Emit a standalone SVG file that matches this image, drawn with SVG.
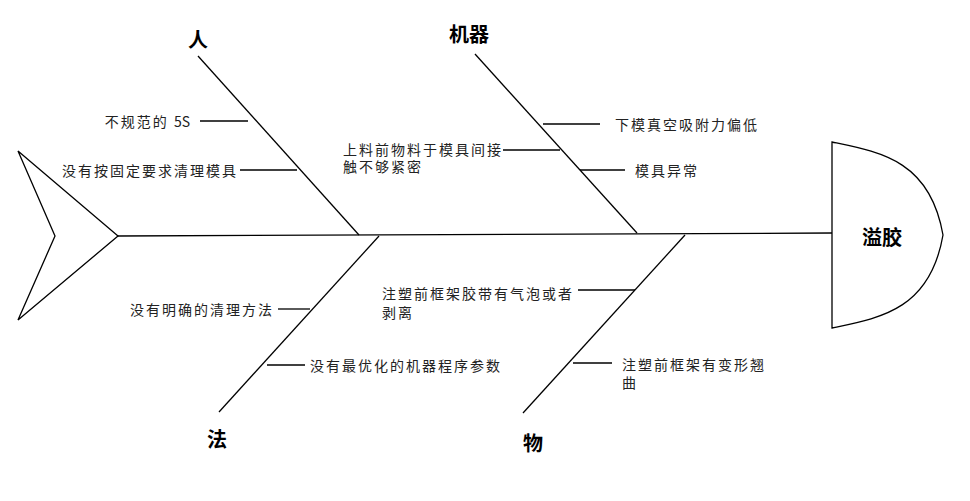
<svg xmlns="http://www.w3.org/2000/svg" width="970" height="501" viewBox="0 0 970 501">
<style>
.ln{stroke:#000;stroke-width:1.3;fill:none}
.t{font-family:"Noto Sans CJK SC","Liberation Sans",sans-serif;font-size:14px;letter-spacing:2px;fill:#222;dominant-baseline:central}
.h{font-family:"Noto Sans CJK SC","Liberation Sans",sans-serif;font-size:20px;font-weight:bold;fill:#000;dominant-baseline:central;text-anchor:middle}
.r{text-anchor:end}
</style>
<rect width="970" height="501" fill="#fff"/>
<g id="tail"><path class="ln" d="M18,151 L118,236 L18,320 L55,236 Z"/></g>
<g id="head"><path class="ln" d="M832,142 C880,152 930,160 943,235 C930,310 880,318 832,328 Z"/><text class="h" x="882" y="236">溢胶</text></g>
<g id="connectors">
<line class="ln" x1="118" y1="236" x2="832" y2="233"/>
<line class="ln" x1="198" y1="56" x2="359" y2="235"/>
<line class="ln" x1="475" y1="54" x2="637" y2="233"/>
<line class="ln" x1="379" y1="236" x2="219" y2="412"/>
<line class="ln" x1="685" y1="235" x2="523" y2="413"/>
<line class="ln" x1="200" y1="121" x2="248" y2="121"/>
<line class="ln" x1="240" y1="170" x2="297" y2="170"/>
<line class="ln" x1="543" y1="124" x2="600" y2="124"/>
<line class="ln" x1="503" y1="150" x2="560" y2="150"/>
<line class="ln" x1="580" y1="170" x2="625" y2="170"/>
<line class="ln" x1="278" y1="309" x2="310" y2="309"/>
<line class="ln" x1="267" y1="365" x2="305" y2="365"/>
<line class="ln" x1="578" y1="290" x2="635" y2="290"/>
<line class="ln" x1="573" y1="363" x2="612" y2="363"/>
</g>
<g id="ren"><text class="h" x="198" y="38">人</text>
<text class="t r" x="190" y="121">不规范的 <tspan letter-spacing="0">5S</tspan></text>
<text class="t r" x="238" y="170">没有按固定要求清理模具</text></g>
<g id="jiqi"><text class="h" x="469" y="33">机器</text>
<text class="t" x="615" y="124">下模真空吸附力偏低</text>
<text class="t" x="343" y="149">上料前物料于模具间接<tspan x="343" dy="17">触不够紧密</tspan></text>
<text class="t" x="635" y="170">模具异常</text></g>
<g id="fa"><text class="h" x="217" y="438">法</text>
<text class="t r" x="274" y="309">没有明确的清理方法</text>
<text class="t" x="310" y="365">没有最优化的机器程序参数</text></g>
<g id="wu"><text class="h" x="533" y="442">物</text>
<text class="t" x="382" y="293">注塑前框架胶带有气泡或者<tspan x="382" dy="19">剥离</tspan></text>
<text class="t" x="622" y="364">注塑前框架有变形翘<tspan x="622" dy="18">曲</tspan></text></g>
</svg>
